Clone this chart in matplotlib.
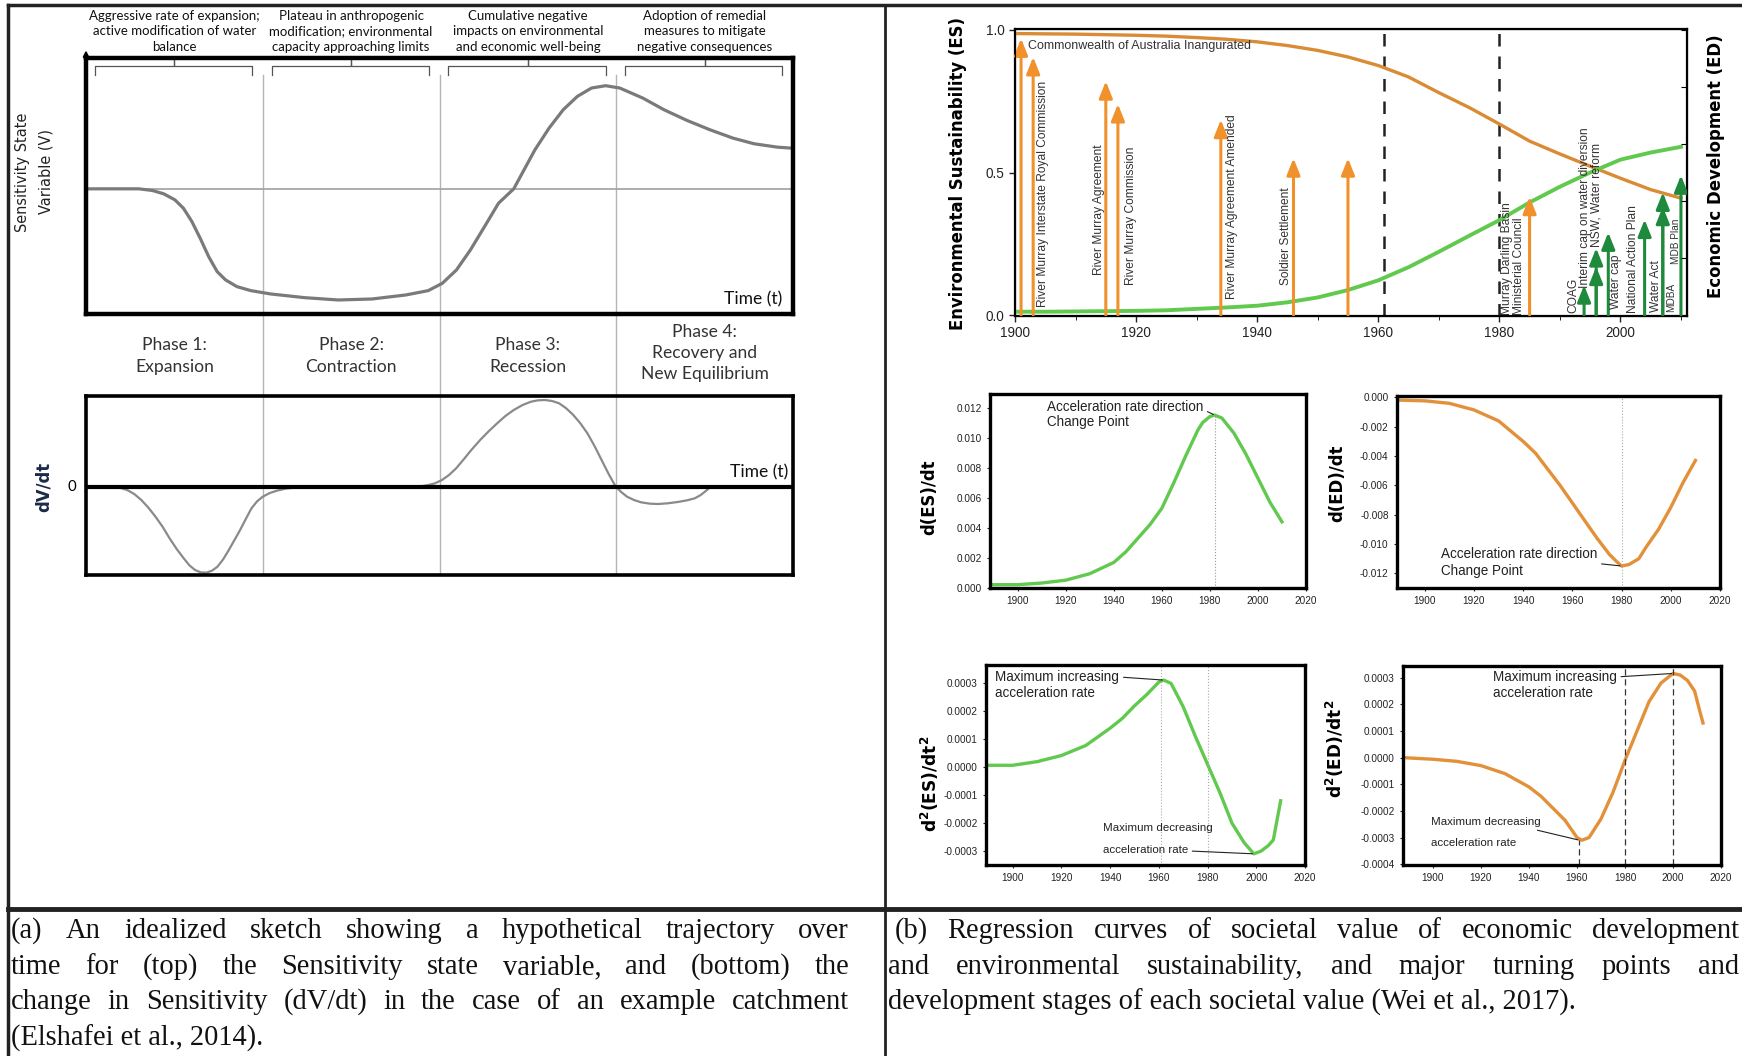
import matplotlib.pyplot as plt
import matplotlib.transforms as mtransforms
from matplotlib.lines import Line2D

# ---------------- data ----------------
# (a) idealized sketch, time in phase units (0-4)
sens_t = [0, 0.30, 0.376, 0.44, 0.503, 0.551, 0.599, 0.646, 0.694, 0.742, 0.79, 0.854,
          0.933, 1.045, 1.236, 1.427, 1.618, 1.809, 1.936, 2.016, 2.096, 2.175, 2.255,
          2.334, 2.42, 2.54, 2.62, 2.70, 2.78, 2.86, 2.94, 3.02, 3.15, 3.27, 3.40, 3.53,
          3.66, 3.78, 3.91, 3.99]
sens_v = [0, 0, -0.05, -0.15, -0.33, -0.58, -0.98, -1.48, -2.03, -2.48, -2.73, -2.93,
          -3.05, -3.15, -3.26, -3.33, -3.30, -3.18, -3.05, -2.83, -2.43, -1.83, -1.13,
          -0.43, 0, 1.17, 1.82, 2.37, 2.77, 3.02, 3.09, 3.02, 2.72, 2.37, 2.05, 1.77,
          1.52, 1.35, 1.25, 1.22]

dv_t = [0, 0.153, 0.19, 0.233, 0.273, 0.313, 0.353, 0.393, 0.433, 0.473, 0.513, 0.553,
        0.585, 0.617, 0.649, 0.681, 0.713, 0.744, 0.776, 0.808, 0.84, 0.872, 0.904, 0.936,
        0.968, 1.0, 1.04, 1.08, 1.13, 1.176, 1.24, 1.30, 1.879, 1.93, 1.974, 2.014, 2.054,
        2.094, 2.134, 2.18, 2.23, 2.278, 2.326, 2.373, 2.42, 2.47, 2.518, 2.557, 2.597,
        2.637, 2.677, 2.717, 2.757, 2.797, 2.837, 2.877, 2.917, 2.957, 2.997, 3.03, 3.061,
        3.10, 3.141, 3.19, 3.236, 3.29, 3.348, 3.40, 3.444, 3.475, 3.502, 3.52, 3.534, 4.0]
dv_v = [0, 0, -0.03, -0.1, -0.22, -0.4, -0.63, -0.9, -1.2, -1.55, -1.87, -2.15, -2.36,
        -2.5, -2.57, -2.58, -2.52, -2.4, -2.18, -1.9, -1.6, -1.3, -0.97, -0.65, -0.44,
        -0.3, -0.19, -0.12, -0.06, -0.03, -0.01, 0, 0, 0.04, 0.1, 0.2, 0.35, 0.55, 0.8,
        1.1, 1.4, 1.66, 1.9, 2.12, 2.3, 2.45, 2.55, 2.59, 2.6, 2.57, 2.5, 2.35, 2.15, 1.9,
        1.6, 1.22, 0.8, 0.38, 0, -0.17, -0.3, -0.4, -0.47, -0.51, -0.52, -0.5, -0.46,
        -0.41, -0.35, -0.26, -0.15, -0.07, 0, 0]

phase_notes = [["Aggressive rate of expansion;", "active modification of water", "balance"],
               ["Plateau in anthropogenic", "modification; environmental",
                "capacity approaching limits"],
               ["Cumulative negative", "impacts on environmental",
                "and economic well-being"],
               ["Adoption of remedial", "measures to mitigate", "negative consequences"]]
phase_names = [["Phase 1:", "Expansion"], ["Phase 2:", "Contraction"],
               ["Phase 3:", "Recession"], ["Phase 4:", "Recovery and", "New Equilibrium"]]

# (b) regression curves
years = [1900, 1905, 1910, 1915, 1920, 1925, 1930, 1935, 1940, 1945, 1950, 1955, 1960,
         1965, 1970, 1975, 1980, 1985, 1990, 1995, 2000, 2005, 2010]
es = [0.012, 0.012, 0.013, 0.014, 0.015, 0.017, 0.022, 0.027, 0.033, 0.045, 0.062, 0.088,
      0.122, 0.168, 0.222, 0.278, 0.333, 0.395, 0.45, 0.50, 0.545, 0.57, 0.59]
ed = [0.987, 0.986, 0.985, 0.983, 0.981, 0.978, 0.973, 0.967, 0.958, 0.945, 0.928, 0.905,
      0.875, 0.835, 0.78, 0.728, 0.67, 0.61, 0.565, 0.522, 0.48, 0.44, 0.41]

ed_events = [1901, 1903, 1915, 1917, 1934, 1946, 1955, 1985]
ed_tips = [0.97, 0.905, 0.82, 0.74, 0.685, 0.55, 0.55, 0.415]
es_events = [1994, 1996, 1996, 1998, 2004, 2007, 2007, 2010]
es_tips = [0.105, 0.17, 0.235, 0.29, 0.335, 0.38, 0.43, 0.49]

event_labels = ["River Murray Interstate Royal Commission", "River Murray Agreement",
                "River Murray Commission", "River Murray Agreement Amended",
                "Soldier Settlement", "Murray Darling Basin", "Ministerial Council",
                "COAG", "Interim cap on water diversion", "NSW, Water reform", "Water cap",
                "National Action Plan", "Water Act", "MDBA", "MDB Plan"]
label_x = [1904.6, 1913.9, 1919.1, 1935.8, 1944.8, 1981.3, 1983.2, 1992.3, 1994.1,
           1996.1, 1999.3, 2002.0, 2005.8, 2008.3, 2009.2]
label_y = [0.03, 0.14, 0.105, 0.058, 0.105, 0.0, 0.0, 0.006, 0.094, 0.24, 0.023, 0.006,
           0.012, 0.012, 0.18]

d1_years_es = [1889, 1900, 1910, 1920, 1930, 1940, 1945, 1950, 1955, 1960, 1965, 1970,
               1975, 1977, 1980, 1982, 1985, 1987, 1990, 1995, 2000, 2005, 2010]
d1_es = [0.00022, 0.00022, 0.00033, 0.00052, 0.00095, 0.0017, 0.0024, 0.0033, 0.0042,
         0.0053, 0.0070, 0.0088, 0.0105, 0.0110, 0.0114, 0.0115, 0.0113, 0.0109, 0.0103,
         0.0089, 0.0073, 0.0057, 0.0044]
d1_years_ed = [1889, 1900, 1910, 1920, 1930, 1940, 1945, 1950, 1955, 1960, 1965, 1970,
               1975, 1978, 1980, 1983, 1987, 1990, 1995, 2000, 2005, 2010]
d1_ed = [-0.00018, -0.00023, -0.0004, -0.00085, -0.0016, -0.0030, -0.0038, -0.0049,
         -0.0060, -0.0072, -0.0084, -0.0096, -0.0107, -0.0112, -0.0115, -0.0114, -0.0110,
         -0.0102, -0.0090, -0.0075, -0.0058, -0.0043]

d2_years_es = [1889, 1900, 1910, 1920, 1930, 1940, 1945, 1950, 1955, 1960, 1962, 1965,
               1968, 1970, 1975, 1980, 1985, 1990, 1995, 1999, 2002, 2005, 2007, 2010]
d2_es = [0.000007, 0.000007, 0.00002, 0.000042, 0.000078, 0.00014, 0.000175, 0.00022,
         0.00026, 0.000305, 0.000312, 0.0003, 0.00025, 0.000216, 0.00011, 0.00001,
         -0.00009, -0.0002, -0.00027, -0.00031, -0.0003, -0.00028, -0.00026, -0.00012]
d2_years_ed = [1887.5, 1900, 1910, 1920, 1930, 1940, 1945, 1950, 1955, 1960, 1962, 1965,
               1970, 1975, 1980, 1985, 1990, 1995, 2000, 2003, 2006, 2009, 2011, 2012.5]
d2_ed = [0.0, -0.000006, -0.000014, -0.00003, -0.00006, -0.00011, -0.000145, -0.00019,
         -0.000235, -0.0003, -0.00031, -0.0003, -0.00023, -0.00013, -0.00001, 0.0001,
         0.00021, 0.00028, 0.000316, 0.00031, 0.00029, 0.00025, 0.00018, 0.00013]

caption_a = ["(a) An idealized sketch showing a hypothetical trajectory over",
             "time for (top) the Sensitivity state variable, and (bottom) the",
             "change in Sensitivity (dV/dt) in the case of an example catchment",
             "(Elshafei et al., 2014)."]
caption_b = ["(b) Regression curves of societal value of economic development",
             "and environmental sustainability, and major turning points and",
             "development stages of each societal value (Wei et al., 2017)."]

# ---------------- figure ----------------
plt.rcParams['font.family'] = ['Liberation Sans', 'DejaVu Sans']
W, H = 1742, 1056
fig = plt.figure(figsize=(W / 100, H / 100), dpi=100)


def pt(p):
    return p * 0.72


def add_ax(l, t, r, b):
    ax = fig.add_axes([l / W, 1 - b / H, (r - l) / W, (b - t) / H])
    ax.set_facecolor('none')
    return ax


def fline(x0, y0, x1, y1, **kw):
    fig.add_artist(Line2D([x0 / W, x1 / W], [1 - y0 / H, 1 - y1 / H],
                          transform=fig.transFigure, **kw))


def ftext(x, y, s, **kw):
    return fig.text(x / W, 1 - y / H, s, **kw)


# table borders
fline(8, 5, W, 5, color='#222', lw=2.5)
fline(8, 5, 8, H, color='#222', lw=2.5)
fline(885, 5, 885, H, color='#222', lw=2)
fline(8, 909, W, 909, color='#222', lw=3.5)

# ---------- (a) top: sensitivity state ----------
ax1 = add_ax(86, 58, 793, 314)
ax1.axhline(0, color='#a0a0a0', lw=1.2)
ax1.plot(sens_t, sens_v, color='#7a7a7a', lw=2.3)
ax1.set_xlim(0, 4)
ax1.set_ylim(-3.75, 3.92)
ax1.set_xticks([])
ax1.set_yticks([])
for s in ax1.spines.values():
    s.set_linewidth(3.2)
for i in range(4):
    a, c, b = i + 0.05, i + 0.5, i + 0.94
    ax1.plot([a, a, c, c, c, b, b], [3.42, 3.67, 3.67, 3.87, 3.67, 3.67, 3.42],
             color='#555', lw=0.9, clip_on=False)
ax1.annotate('', xy=(0, 4.15), xytext=(0, 3.9), annotation_clip=False,
             arrowprops=dict(arrowstyle='-|>', color='black', lw=1.5,
                             shrinkA=0, shrinkB=0, mutation_scale=8))

pw = (793 - 86) / 4
for i, (note, name) in enumerate(zip(phase_notes, phase_names)):
    cx = 86 + (i + 0.5) * pw
    for line, y in zip(note, [16, 31, 47]):
        ftext(cx, y, line, ha='center', va='center', family='Lato',
              fontsize=pt(13.2), color='#111')
    ys = [345, 367] if len(name) == 2 else [332, 353, 374]
    for line, y in zip(name, ys):
        ftext(cx, y, line, ha='center', va='center', family='Lato',
              fontsize=pt(17.5), color='#333')

ftext(23, 172, 'Sensitivity State', rotation=90, ha='center', va='center',
      family='DejaVu Sans', fontsize=pt(14.5), color='#222')
ftext(46, 172, 'Variable (V)', rotation=90, ha='center', va='center',
      family='DejaVu Sans', fontsize=pt(14.5), color='#222')
ftext(782, 299, 'Time (t)', ha='right', va='center', family='Lato',
      fontsize=pt(17.5), color='#111')

# ---------- (a) bottom: dV/dt ----------
ax2 = add_ax(86, 396, 793, 575)
ax2.plot(dv_t, dv_v, color='#8a8a8a', lw=1.6)
ax2.axhline(0, color='black', lw=3)
ax2.set_xlim(0, 4)
ax2.set_ylim(-2.65, 2.72)
ax2.set_xticks([])
ax2.set_yticks([])
for s in ax2.spines.values():
    s.set_linewidth(2.6)

ftext(72, 487, '0', ha='center', va='center', family='Lato', fontsize=pt(15))
ftext(44, 487, 'dV/dt', rotation=90, ha='center', va='center', family='DejaVu Sans',
      fontweight='bold', fontsize=pt(16.5), color='#1c2a4a')
ftext(788, 472, 'Time (t)', ha='right', va='center', family='Lato',
      fontsize=pt(17.5), color='#111')

# phase separators through both sketches
trans = mtransforms.blended_transform_factory(ax1.transData, fig.transFigure)
for x in [1, 2, 3]:
    fig.add_artist(Line2D([x, x], [1 - 75 / H, 1 - 575 / H], transform=trans,
                          color='#b5b5b5', lw=1, zorder=-1))

# ---------- (b) top: ES / ED ----------
orange = '#e2913a'
orange_arrow = '#f0912c'
green = '#62c94f'
green_arrow = '#1f8a3c'

ax3 = add_ax(1015, 29, 1687, 316)
ax3.plot(years, ed, color='#d98b35', lw=2.4, zorder=3)
ax3.plot(years, es, color=green, lw=2.8, zorder=3)
for x in [1961, 1980]:
    ax3.axvline(x, color='#222', lw=1.8, ls=(0, (5, 4)), zorder=1)
for yr, tip in zip(ed_events, ed_tips):
    ax3.annotate('', xy=(yr, tip), xytext=(yr, 0),
                 arrowprops=dict(arrowstyle='-|>,head_length=1.0,head_width=0.4',
                                 color=orange_arrow, lw=2.2, shrinkA=0, shrinkB=0),
                 zorder=4)
for yr, tip in zip(es_events, es_tips):
    ax3.annotate('', xy=(yr, tip), xytext=(yr, 0),
                 arrowprops=dict(arrowstyle='-|>,head_length=1.0,head_width=0.4',
                                 color=green_arrow, lw=2.2, shrinkA=0, shrinkB=0),
                 zorder=4)
ax3.text(1902.2, 0.945, 'Commonwealth of Australia Inangurated', fontsize=pt(12.5),
         color='#333', va='center', ha='left', zorder=5)
for lab, x, y in zip(event_labels, label_x, label_y):
    fs = pt(10) if lab in ('MDB Plan', 'MDBA') else pt(12)
    ax3.text(x, y, lab, rotation=90, ha='center', va='bottom', fontsize=fs,
             color='#333', zorder=5)
ax3.set_xlim(1900, 2011)
ax3.set_ylim(-0.003, 1.003)
ax3.set_xticks(range(1900, 2011, 20))
ax3.set_xticks(range(1900, 2011, 10), minor=True)
ax3.set_yticks([0, 0.5, 1.0])
ax3.set_yticklabels(['0.0', '0.5', '1.0'])
ax3.tick_params(labelsize=pt(13.5), length=4, width=1, colors='#222')
ax3.tick_params(which='minor', length=3)
for s in ax3.spines.values():
    s.set_linewidth(1.6)
axr = ax3.twinx()
axr.set_ylim(-0.003, 1.003)
axr.set_yticks([0.2, 0.4, 0.6, 0.8, 1.0])
axr.set_yticklabels([])
axr.tick_params(direction='in', length=4)

ftext(958, 174, 'Environmental Sustainability (ES)', rotation=90, ha='center',
      va='center', family='DejaVu Sans', fontweight='bold', fontsize=pt(16.5))
ftext(1716, 166, 'Economic Development (ED)', rotation=90, ha='center',
      va='center', family='DejaVu Sans', fontweight='bold', fontsize=pt(16.5))


def style_small(ax, xlim, ylim, yticks, fmt):
    ax.set_xlim(*xlim)
    ax.set_ylim(*ylim)
    ax.set_xticks(range(1900, 2021, 20))
    ax.set_yticks(yticks)
    ax.set_yticklabels([fmt % v for v in yticks])
    ax.tick_params(labelsize=pt(10), length=2.5, width=0.8, colors='#222')
    for s in ax.spines.values():
        s.set_linewidth(2.4)


line_kw = dict(arrowstyle='-', lw=0.8, color='#222', shrinkA=1, shrinkB=1)
big = pt(13.5)
small = pt(11.5)

# ---------- d(ES)/dt ----------
ax4 = add_ax(990, 394, 1306, 588)
ax4.plot(d1_years_es, d1_es, color=green, lw=2.4)
i_pk = d1_es.index(max(d1_es))
ax4.vlines(d1_years_es[i_pk], 0, d1_es[i_pk], colors='#999', lw=0.8, linestyles=':')
ax4.annotate('Acceleration rate direction', xy=(d1_years_es[i_pk], d1_es[i_pk]),
             xytext=(1912.2, 0.01204), ha='left', va='center', fontsize=big,
             color='#222', arrowprops=dict(relpos=(1.0, 0.3), **line_kw))
ax4.text(1912.2, 0.01104, 'Change Point', ha='left', va='center', fontsize=big,
         color='#222')
style_small(ax4, (1888.5, 2020), (0, 0.0129), [0.000, 0.002, 0.004, 0.006, 0.008,
                                               0.010, 0.012], '%.3f')
ftext(929, 497, 'd(ES)/dt', rotation=90, ha='center', va='center',
      family='DejaVu Sans', fontweight='bold', fontsize=pt(16.5))

# ---------- d(ED)/dt ----------
ax5 = add_ax(1397, 396, 1720, 588)
ax5.plot(d1_years_ed, d1_ed, color=orange, lw=2.4)
i_mn = d1_ed.index(min(d1_ed))
ax5.axvline(d1_years_ed[i_mn], color='#aaa', lw=0.8, ls=':')
ax5.annotate('Acceleration rate direction', xy=(d1_years_ed[i_mn], d1_ed[i_mn]),
             xytext=(1906.6, -0.01068), ha='left', va='center', fontsize=big,
             color='#222', arrowprops=dict(relpos=(0.85, 0.0), **line_kw))
ax5.text(1906.6, -0.01184, 'Change Point', ha='left', va='center', fontsize=big,
         color='#222')
style_small(ax5, (1888.7, 2020), (-0.013, 0.0001), [0.000, -0.002, -0.004, -0.006,
                                                     -0.008, -0.010, -0.012], '%.3f')
ftext(1337, 483, 'd(ED)/dt', rotation=90, ha='center', va='center',
      family='DejaVu Sans', fontweight='bold', fontsize=pt(16.5))

# ---------- d2(ES)/dt2 ----------
ax6 = add_ax(986, 665, 1305, 865)
ax6.plot(d2_years_es, d2_es, color=green, lw=2.4)
for x in [1961, 1980]:
    ax6.axvline(x, color='#aaa', lw=0.8, ls=':')
i_pk2 = d2_es.index(max(d2_es))
i_mn2 = d2_es.index(min(d2_es))
ax6.annotate('Maximum increasing', xy=(d2_years_es[i_pk2], d2_es[i_pk2]),
             xytext=(1892.9, 0.000323), ha='left', va='center', fontsize=big,
             color='#222', arrowprops=dict(relpos=(1.0, 0.5), **line_kw))
ax6.text(1892.9, 0.000266, 'acceleration rate', ha='left', va='center', fontsize=big,
         color='#222')
ax6.text(1937, -0.000218, 'Maximum decreasing', ha='left', va='center',
         fontsize=small, color='#222')
ax6.annotate('acceleration rate', xy=(d2_years_es[i_mn2], d2_es[i_mn2]),
             xytext=(1937, -0.000296), ha='left', va='center', fontsize=small,
             color='#222', arrowprops=dict(relpos=(1.0, 0.4), **line_kw))
style_small(ax6, (1889, 2020), (-0.00035, 0.000366),
            [-0.0003, -0.0002, -0.0001, 0.0, 0.0001, 0.0002, 0.0003], '%.4f')
ftext(930, 784, r'$\mathbf{d^2(ES)/dt^2}$', rotation=90, ha='center', va='center',
      fontsize=pt(17))

# ---------- d2(ED)/dt2 ----------
ax7 = add_ax(1403, 666, 1721, 865)
ax7.plot(d2_years_ed, d2_ed, color=orange, lw=2.4)
i_pk3 = d2_ed.index(max(d2_ed))
i_mn3 = d2_ed.index(min(d2_ed))
ylo7 = -0.000403
ax7.vlines(d2_years_ed[i_mn3] - 1, ylo7, d2_ed[i_mn3], colors='#333', lw=0.9,
           linestyles=(0, (5, 3)))
ax7.axvline(1980, color='#333', lw=0.9, ls=(0, (5, 3)))
ax7.axvline(d2_years_ed[i_pk3], color='#333', lw=0.9, ls=(0, (5, 3)))
ax7.annotate('Maximum increasing', xy=(d2_years_ed[i_pk3], d2_ed[i_pk3]),
             xytext=(1925, 0.000303), ha='left', va='center', fontsize=big,
             color='#222', arrowprops=dict(relpos=(1.0, 0.5), **line_kw))
ax7.text(1925, 0.000243, 'acceleration rate', ha='left', va='center', fontsize=big,
         color='#222')
ax7.annotate('Maximum decreasing', xy=(d2_years_ed[i_mn3] - 1, d2_ed[i_mn3]),
             xytext=(1899.2, -0.000242), ha='left', va='center', fontsize=small,
             color='#222', arrowprops=dict(relpos=(0.85, 0.0), **line_kw))
ax7.text(1899.2, -0.00032, 'acceleration rate', ha='left', va='center',
         fontsize=small, color='#222')
style_small(ax7, (1887.5, 2020), (ylo7, 0.000344),
            [-0.0004, -0.0003, -0.0002, -0.0001, 0.0, 0.0001, 0.0002, 0.0003], '%.4f')
ftext(1335, 749, r'$\mathbf{d^2(ED)/dt^2}$', rotation=90, ha='center', va='center',
      fontsize=pt(17))

# ---------- captions (justified) ----------
cap_kw = dict(family='Liberation Serif', fontsize=pt(28.5), va='center', color='#111')
renderer = fig.canvas.get_renderer()


def justify(lines, x0, x1, ys, first_indent=0):
    for k, (line, y) in enumerate(zip(lines, ys)):
        xs = x0 + (first_indent if k == 0 else 0)
        if k == len(lines) - 1:
            ftext(xs, y, line, **cap_kw)
            continue
        words = line.split()
        widths = []
        for w in words:
            t = ftext(0, 0, w, **cap_kw)
            widths.append(t.get_window_extent(renderer).width)
            t.remove()
        gap = (x1 - xs - sum(widths)) / (len(words) - 1)
        x = xs
        for w, wd in zip(words, widths):
            ftext(x, y, w, **cap_kw)
            x += wd + gap


justify(caption_a, 11, 849, [931, 967, 1002, 1038])
justify(caption_b, 888, 1739, [931, 967, 1002], first_indent=7)

fig.savefig('out.png', dpi=100)
